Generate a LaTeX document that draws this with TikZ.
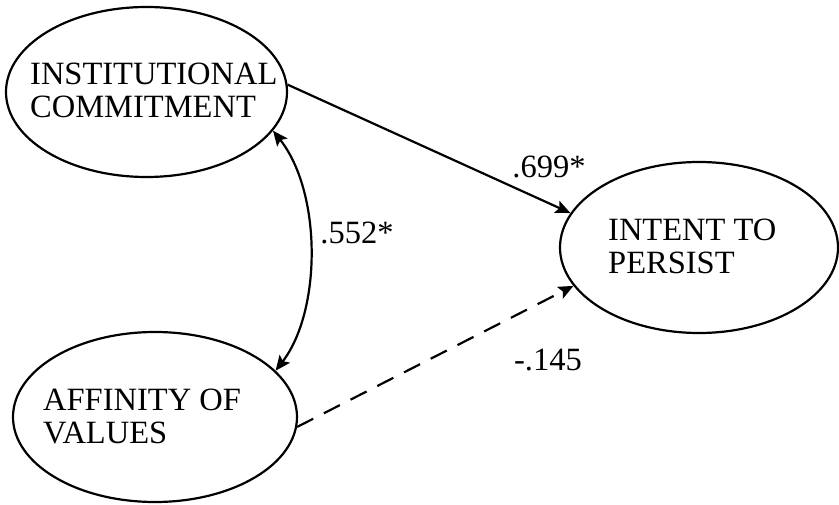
\documentclass[tikz,border=0pt]{standalone}
\usepackage{fontspec}
\setmainfont{Liberation Serif}
\newfontfamily\diagfont{Liberation Serif}
\usetikzlibrary{shapes.geometric,arrows.meta}
\begin{document}
\begin{tikzpicture}[x=1pt,y=-1pt,
  latent/.style={ellipse,draw,line width=2.2pt,inner sep=0pt},
  txt/.style={align=left,inner sep=0pt,anchor=west,font=\diagfont\fontsize{32.5}{33.5}\selectfont},
  coef/.style={inner sep=0pt,font=\diagfont\fontsize{32.5}{33.5}\selectfont},
  tip/.style={-{Stealth[length=15pt,width=13pt,inset=3pt]}},
  path/.style={line width=2.2pt},
]
\useasboundingbox (0,0) rectangle (839,505);
\node[latent,minimum width=281pt,minimum height=170pt] (ic) at (146.5,92) {};
\node[latent,minimum width=284pt,minimum height=170pt] (av) at (155,417) {};
\node[latent,minimum width=278pt,minimum height=171pt] (itp) at (699,247.5) {};
\node[txt] (ict) at (30,90.5) {INSTITUTIONAL\\COMMITMENT};
\node[txt] (avt) at (43,416.5) {AFFINITY OF\\VALUES};
\node[txt] (itpt) at (608,246.5) {INTENT TO\\PERSIST};
\draw[path,tip] (ic.3) -- (itp.165.6);
\draw[path,tip,dash pattern=on 18pt off 12pt] (av.-4) -- (itp.-163.8);
\draw[path,{Stealth[length=15pt,width=13pt,inset=3pt]}-{Stealth[length=15pt,width=13pt,inset=3pt]}]
  (ic.-17) .. controls +(49,62) and +(46,-60) .. (av.21);
\node[coef] (c1) at (549,167) {.699*};
\node[coef] (c2) at (357,233) {.552*};
\node[coef] (c3) at (548,360) {-.145};
\end{tikzpicture}
\end{document}
